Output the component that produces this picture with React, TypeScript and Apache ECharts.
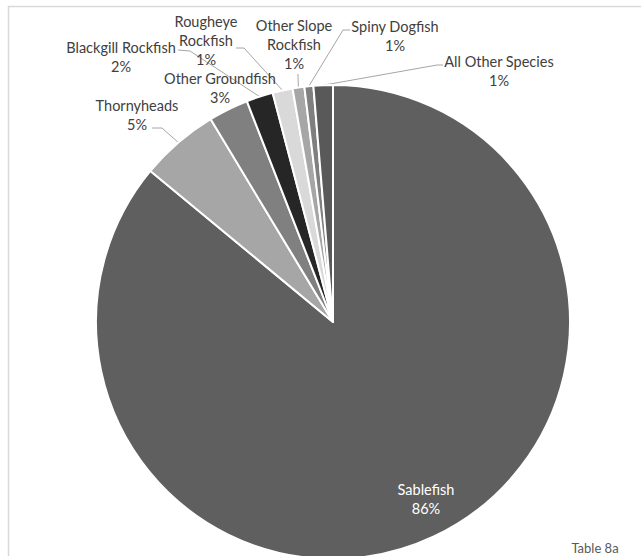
import React, { useEffect, useRef } from "react";
import * as echarts from "echarts";

const names = [
  "Sablefish",
  "Thornyheads",
  "Other Groundfish",
  "Blackgill Rockfish",
  "Rougheye Rockfish",
  "Other Slope Rockfish",
  "Spiny Dogfish",
  "All Other Species",
];
const labelNames = [
  "Sablefish",
  "Thornyheads",
  "Other Groundfish",
  "Blackgill Rockfish",
  "Rougheye\nRockfish",
  "Other Slope\nRockfish",
  "Spiny Dogfish",
  "All Other Species",
];
const values = [86.0, 5.36, 2.72, 1.82, 1.37, 0.8, 0.61, 1.32];
const colors = ["#5f5f5f", "#a6a6a6", "#808080", "#262626", "#d9d9d9", "#a6a6a6", "#7f7f7f", "#595959"];

// label centres and leader-line bend/end points (layout only)
const labelPos: number[][] = [
  [426, 499],
  [137, 115],
  [220, 88],
  [121, 57],
  [206, 40],
  [294, 44],
  [395, 36],
  [499, 71],
];
const leaderPts: (number[][] | null)[] = [
  null,
  [[162, 128], [152, 128]],
  null,
  [[190, 51], [178, 50]],
  [[244, 48], [236, 48]],
  [[298, 76], [298, 74]],
  [[343, 30], [350, 30]],
  [[437, 65], [443, 65]],
];

export default function App() {
  const ref = useRef<HTMLDivElement>(null);
  useEffect(() => {
    if (!ref.current) return;
    const chart = echarts.init(ref.current, undefined, { renderer: "svg" });
    const font = "Lato, 'Open Sans', sans-serif";
    chart.setOption({
      animation: false,
      backgroundColor: "#ffffff",
      textStyle: { fontFamily: font },
      graphic: [
        {
          type: "rect",
          shape: { x: 8.5, y: 6.5, width: 700, height: 600 },
          style: { fill: "none", stroke: "#d9d9d9", lineWidth: 1.5 },
          silent: true,
        },
        {
          type: "text",
          x: 595,
          y: 548,
          style: {
            text: "Table 8a",
            fill: "#595959",
            font: `13px ${font}`,
            align: "center",
            verticalAlign: "middle",
          },
        },
      ],
      series: [
        {
          type: "pie",
          center: [333, 322],
          radius: 237,
          startAngle: 90,
          clockwise: true,
          avoidLabelOverlap: false,
          itemStyle: { borderColor: "#ffffff", borderWidth: 2 },
          label: {
            show: true,
            position: "outside",
            fontFamily: font,
            fontSize: 14.5,
            lineHeight: 19,
            color: "#404040",
            align: "center",
            formatter: (p: any) => `${labelNames[p.dataIndex]}\n${Math.round(p.percent)}%`,
          },
          labelLine: {
            show: true,
            lineStyle: { color: "#a6a6a6", width: 1 },
          },
          labelLayout: (p: any) => {
            const i = p.dataIndex;
            const pos = labelPos[i];
            const res: any = {
              x: pos[0],
              y: pos[1],
              align: "center",
              verticalAlign: "middle",
            };
            const lp = leaderPts[i];
            if (lp && p.labelLinePoints) {
              res.labelLinePoints = [p.labelLinePoints[0], lp[0], lp[1]];
            }
            return res;
          },
          data: names.map((n, i) => ({
            name: n,
            value: values[i],
            itemStyle: { color: colors[i] },
            label: i === 0 ? { color: "#ffffff" } : undefined,
            labelLine: leaderPts[i] ? undefined : { show: false },
          })),
        },
      ],
    });
    return () => chart.dispose();
  }, []);
  return (
    <div
      ref={ref}
      style={{ position: "absolute", left: 0, top: 0, width: 641, height: 556, background: "#fff" }}
    />
  );
}
